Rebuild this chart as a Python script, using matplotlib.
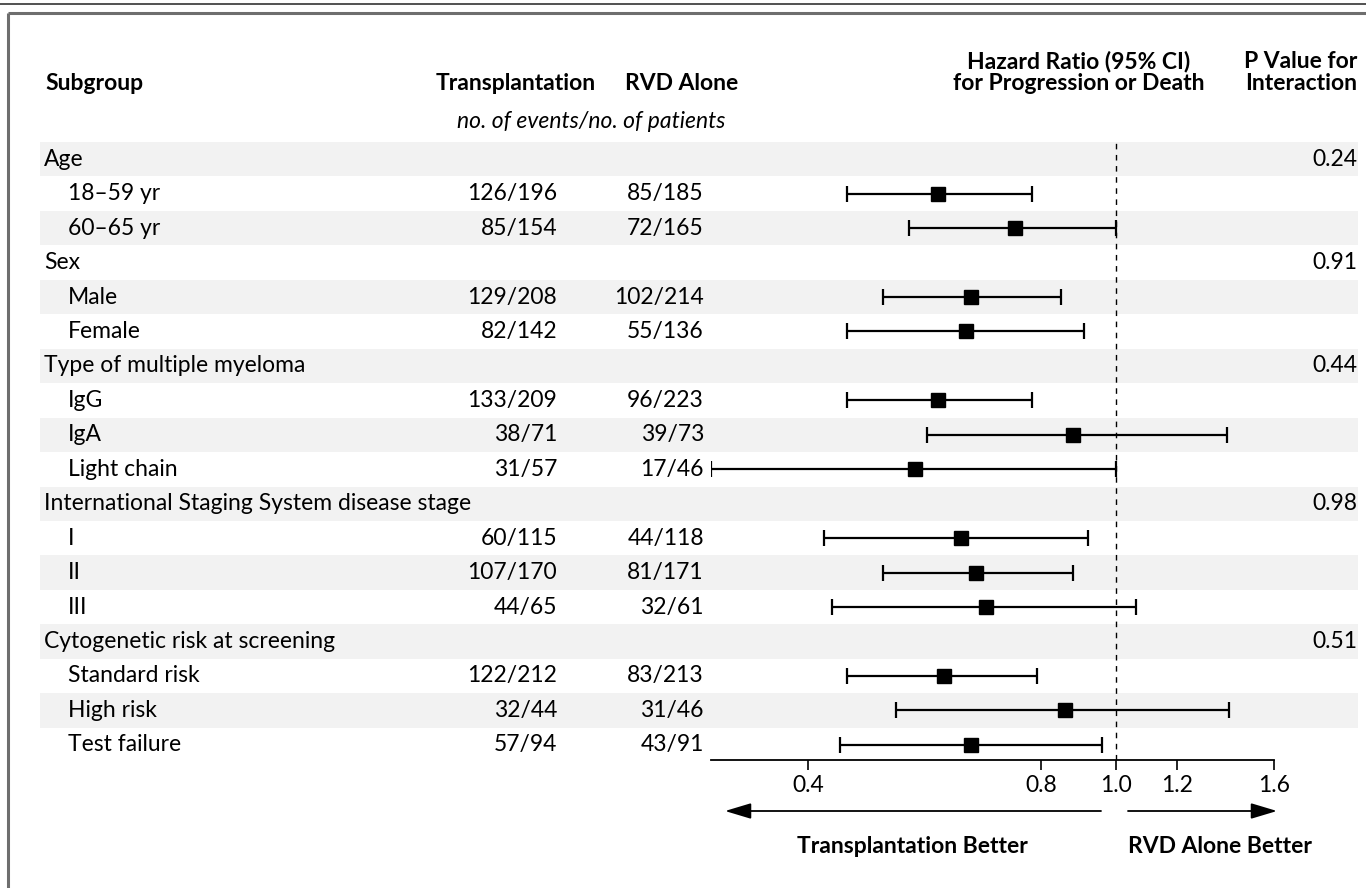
import numpy as np
import matplotlib.pyplot as plt
from matplotlib.patches import Rectangle

plt.rcParams['font.family'] = ['Lato', 'DejaVu Sans']

# subgroup rows, top to bottom
labels = ["Age", "18\u201359 yr", "60\u201365 yr",
          "Sex", "Male", "Female",
          "Type of multiple myeloma", "IgG", "IgA", "Light chain",
          "International Staging System disease stage", "I", "II", "III",
          "Cytogenetic risk at screening", "Standard risk", "High risk", "Test failure"]
is_header = [True, False, False, True, False, False, True, False, False, False,
             True, False, False, False, True, False, False, False]
transplant = ["", "126/196", "85/154", "", "129/208", "82/142", "", "133/209", "38/71",
              "31/57", "", "60/115", "107/170", "44/65", "", "122/212", "32/44", "57/94"]
rvd_alone = ["", "85/185", "72/165", "", "102/214", "55/136", "", "96/223", "39/73",
             "17/46", "", "44/118", "81/171", "32/61", "", "83/213", "31/46", "43/91"]
nan = np.nan
hr = [nan, 0.59, 0.74, nan, 0.65, 0.64, nan, 0.59, 0.88, 0.55,
      nan, 0.63, 0.66, 0.68, nan, 0.60, 0.86, 0.65]
ci_low = [nan, 0.45, 0.54, nan, 0.50, 0.45, nan, 0.45, 0.57, 0.30,
          nan, 0.42, 0.50, 0.43, nan, 0.45, 0.52, 0.44]
ci_high = [nan, 0.78, 1.00, nan, 0.85, 0.91, nan, 0.78, 1.39, 1.00,
           nan, 0.92, 0.88, 1.06, nan, 0.79, 1.40, 0.96]
p_inter = ["0.24", "", "", "0.91", "", "", "0.44", "", "", "",
           "0.98", "", "", "", "0.51", "", "", ""]
xticks = [0.4, 0.8, 1.0, 1.2, 1.6]

W, H = 1366, 888
FS = 16.5
fig = plt.figure(figsize=(W / 100, H / 100), dpi=100)

# background layer in pixel units
bg = fig.add_axes([0, 0, 1, 1])
bg.set_xlim(0, W)
bg.set_ylim(H, 0)
bg.axis('off')

row_top, row_h = 142, 34.45
n = len(labels)
for i in range(n):
    if i % 2 == 0:
        bg.add_patch(Rectangle((40, row_top + i * row_h), 1318, row_h,
                               facecolor='#f2f2f2', edgecolor='none'))
    yc = row_top + (i + 0.5) * row_h
    bg.text(44 if is_header[i] else 68, yc, labels[i], fontsize=FS, va='center', ha='left')
    bg.text(557, yc, transplant[i], fontsize=FS, va='center', ha='right')
    bg.text(704, yc, rvd_alone[i], fontsize=FS, va='center', ha='right')
    bg.text(1357, yc, p_inter[i], fontsize=FS, va='center', ha='right')

# frame
bg.plot([0, W], [4, 4], color='#333333', lw=1.2)
bg.plot([8, W], [13, 13], color='#6e6e6e', lw=2.2, solid_capstyle='butt')
bg.plot([8, 8], [13, H], color='#6e6e6e', lw=2.2, solid_capstyle='butt')

# column headings
bold = dict(fontsize=FS, fontweight='bold', va='center')
bg.text(45, 84, "Subgroup", **bold)
bg.text(516, 84, "Transplantation", ha='center', **bold)
bg.text(682, 84, "RVD Alone", ha='center', **bold)
bg.text(591, 122, "no. of events/no. of patients", fontsize=FS, style='italic',
        va='center', ha='center')
bg.text(1079, 62, "Hazard Ratio (95% CI)", ha='center', **bold)
bg.text(1079, 84, "for Progression or Death", ha='center', **bold)
bg.text(1357, 62, "P Value for", ha='right', **bold)
bg.text(1357, 84, "Interaction", ha='right', **bold)

# direction arrows and captions
arrow = dict(arrowstyle='-|>,head_length=1.0,head_width=0.3', color='black', lw=1.3,
             shrinkA=0, shrinkB=0, mutation_scale=16)
bg.annotate("", xy=(725, 811), xytext=(1101, 811), arrowprops=arrow)
bg.annotate("", xy=(1277, 811), xytext=(1128, 811), arrowprops=arrow)
bg.text(912, 846, "Transplantation Better", ha='center', **bold)
bg.text(1220, 846, "RVD Alone Better", ha='center', **bold)

# forest plot
ax_l, ax_r, ax_t, ax_b = 711, 1274, 142, 760
ax = fig.add_axes([ax_l / W, 1 - ax_b / H, (ax_r - ax_l) / W, (ax_b - ax_t) / H])
ax.patch.set_alpha(0)
ax.set_xscale('log')
ax.set_xlim(0.3, 1.6)
ax.set_ylim((ax_b - ax_t) / row_h - 0.5, -0.5)

rows = np.arange(n)
hr_a = np.array(hr)
err = [hr_a - np.array(ci_low), np.array(ci_high) - hr_a]
ax.errorbar(hr_a, rows, xerr=err, fmt='s', color='black', ecolor='black',
            markersize=10, elinewidth=1.6, capsize=6, capthick=1.6)
ax.axvline(1.0, color='black', lw=1, ls=(0, (4, 4)))

for s in ['top', 'right', 'left']:
    ax.spines[s].set_visible(False)
ax.spines['bottom'].set_linewidth(1.3)
ax.set_yticks([])
ax.set_xticks(xticks)
ax.set_xticklabels([f"{t:.1f}" for t in xticks])
ax.xaxis.set_minor_locator(plt.NullLocator())
ax.tick_params(axis='x', direction='out', length=7, width=1.2, labelsize=FS, pad=4)

fig.savefig("out.png", dpi=100)
